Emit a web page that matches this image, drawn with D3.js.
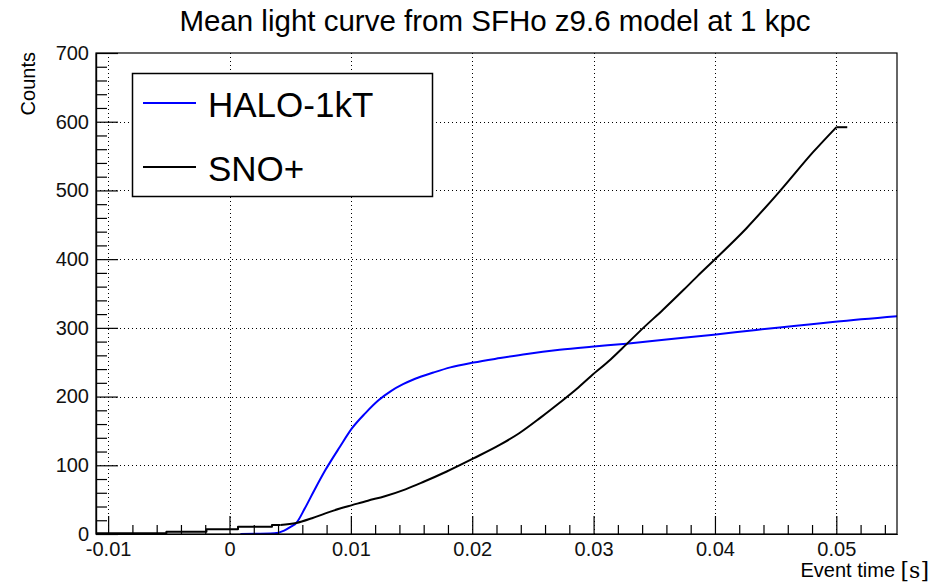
<!DOCTYPE html>
<html>
<head>
<meta charset="utf-8">
<script src="https://cdn.jsdelivr.net/npm/d3@7"></script>
<style>
  html, body { margin: 0; padding: 0; background: #fff; }
  svg { display: block; font-family: "Liberation Sans", Arial, Helvetica, sans-serif; }
</style>
</head>
<body>
<svg id="chart" width="943" height="582"></svg>
<script>
// ---- data ----
const titleText = "Mean light curve from SFHo z9.6 model at 1 kpc";
const seriesNames = ["HALO-1kT", "SNO+"];
const seriesColors = ["#0000ff", "#000000"];

// HALO-1kT: event time [s] and mean counts
const haloTime = [0.0009, 0.0037, 0.0045, 0.0051, 0.0055, 0.0062, 0.0070, 0.0079, 0.0091, 0.0101,
                  0.0112, 0.0123, 0.0133, 0.0143, 0.0153, 0.0168, 0.0182, 0.0201, 0.0223, 0.0245,
                  0.0272, 0.0298, 0.0327, 0.0360, 0.0399, 0.0434, 0.0467, 0.0499, 0.0550];
const haloCounts = [0, 1, 5, 11, 16, 37, 64, 93, 127, 154,
                    176, 195, 208, 218, 226, 235, 242.5, 249.5, 256, 262,
                    268, 272.5, 277, 283, 290, 297, 303, 309, 317];

// SNO+: coarse early bins (drawn as steps) ...
const snoStepTime = [-0.011, -0.0052, -0.0052, -0.0019, -0.0019, 0.0007, 0.0007, 0.0035, 0.0035, 0.0042];
const snoStepCounts = [1, 1, 3.3, 3.3, 7, 7, 10.5, 10.5, 13, 13];
// ... then the finely binned rise
const snoTime = [0.0042, 0.0055, 0.0068, 0.0079, 0.0091, 0.0101, 0.0114, 0.0128, 0.0145, 0.0160,
                 0.0179, 0.0201, 0.0223, 0.0239, 0.0256, 0.0272, 0.0286, 0.0298, 0.0314, 0.0327,
                 0.0341, 0.0357, 0.0374, 0.0386, 0.0399, 0.0426, 0.0454, 0.0481, 0.0500];
const snoCounts = [13, 16, 23, 30, 37, 42, 48.5, 55, 65, 76,
                   91, 110, 130, 147, 169, 191, 211, 230, 254, 276,
                   300, 326, 355, 376, 398, 445, 500, 556, 592];
const snoEndTime = [0.0500, 0.0509];
const snoEndCounts = [592, 592];

const xDomain = [-0.011, 0.055];
const yDomain = [0, 700];
const xTicks = [-0.01, 0, 0.01, 0.02, 0.03, 0.04, 0.05];
const xTickLabels = ["-0.01", "0", "0.01", "0.02", "0.03", "0.04", "0.05"];
const yTicks = [0, 100, 200, 300, 400, 500, 600, 700];
const yTickLabels = ["0", "100", "200", "300", "400", "500", "600", "700"];
const xLabel = "Event time";
const xUnit = "[s]";
const yLabel = "Counts";

// ---- layout ----
const frame = { left: 96, right: 897, top: 53, bottom: 534 };
const svg = d3.select("#chart");

const x = d3.scaleLinear().domain(xDomain).range([frame.left, frame.right]);
const y = d3.scaleLinear().domain(yDomain).range([frame.bottom, frame.top]);

// minor ticks
const xMinor = d3.range(-0.010, 0.0551, 0.002).map(v => +v.toFixed(4)).filter(v => !xTicks.some(t => Math.abs(t - v) < 1e-9));
const yMinor = d3.range(0, 701, 20).filter(v => v % 100 !== 0);

// grid (dotted)
const grid = svg.append("g").attr("stroke", "#000").attr("stroke-width", 1).attr("stroke-dasharray", "1,3");
grid.selectAll("line.gx").data(xTicks).join("line")
  .attr("x1", d => Math.round(x(d)) + 0.5).attr("x2", d => Math.round(x(d)) + 0.5)
  .attr("y1", frame.top).attr("y2", frame.bottom);
grid.selectAll("line.gy").data(yTicks.filter(d => d > 0 && d < 700)).join("line")
  .attr("y1", d => Math.round(y(d)) + 0.5).attr("y2", d => Math.round(y(d)) + 0.5)
  .attr("x1", frame.left).attr("x2", frame.right);

// curves
const lineLin = d3.line().x(d => x(d[0])).y(d => y(d[1]));
const lineSmooth = d3.line().x(d => x(d[0])).y(d => y(d[1])).curve(d3.curveMonotoneX);
const zip = (a, b) => a.map((t, i) => [t, b[i]]);

function drawPath(data, gen, color) {
  svg.append("path").datum(data).attr("d", gen)
    .attr("fill", "none").attr("stroke", color).attr("stroke-width", 2)
    .attr("stroke-linejoin", "round").attr("stroke-linecap", "butt");
}
drawPath(zip(haloTime, haloCounts), lineSmooth, seriesColors[0]);
drawPath(zip(snoStepTime, snoStepCounts), lineLin, seriesColors[1]);
drawPath(zip(snoTime, snoCounts), lineSmooth, seriesColors[1]);
drawPath(zip(snoEndTime, snoEndCounts), lineLin, seriesColors[1]);

// frame
svg.append("rect").attr("x", frame.left).attr("y", frame.top)
  .attr("width", frame.right - frame.left).attr("height", frame.bottom - frame.top)
  .attr("fill", "none").attr("stroke", "#000").attr("stroke-width", 1.2);

// axes
const xAxis = d3.axisBottom(x).tickValues(xTicks).tickSizeInner(-18).tickSizeOuter(0).tickPadding(8)
  .tickFormat((d, i) => xTickLabels[i]);
svg.append("g").attr("transform", `translate(0,${frame.bottom})`).call(xAxis);
const xAxisMinor = d3.axisBottom(x).tickValues(xMinor).tickSizeInner(-9).tickSizeOuter(0).tickFormat("");
svg.append("g").attr("transform", `translate(0,${frame.bottom})`).call(xAxisMinor);

const yAxis = d3.axisLeft(y).tickValues(yTicks).tickSizeInner(-22).tickSizeOuter(0).tickPadding(7)
  .tickFormat((d, i) => yTickLabels[i]);
svg.append("g").attr("transform", `translate(${frame.left},0)`).call(yAxis);
const yAxisMinor = d3.axisLeft(y).tickValues(yMinor).tickSizeInner(-11).tickSizeOuter(0).tickFormat("");
svg.append("g").attr("transform", `translate(${frame.left},0)`).call(yAxisMinor);

svg.selectAll(".domain").attr("stroke", "#000").attr("stroke-width", 1.2);
svg.selectAll(".tick line").attr("stroke", "#000").attr("stroke-width", 1.2);
svg.selectAll(".tick text").attr("font-family", "Liberation Sans, Arial, sans-serif").attr("font-size", 20).attr("fill", "#111");

// title
svg.append("text").attr("x", 495).attr("y", 31).attr("text-anchor", "middle")
  .attr("font-size", 29.5).attr("fill", "#000").text(titleText);

// axis labels
svg.append("text").attr("x", 895).attr("y", 577).attr("text-anchor", "end")
  .attr("font-size", 20).attr("fill", "#000").text(xLabel);
svg.append("text").attr("x", 929).attr("y", 578).attr("text-anchor", "end")
  .attr("font-family", "DejaVu Serif, Liberation Serif, serif").attr("font-size", 22).attr("fill", "#000").text(xUnit);
svg.append("text").attr("transform", "translate(35,52) rotate(-90)").attr("text-anchor", "end")
  .attr("font-size", 20).attr("fill", "#000").text(yLabel);

// legend
const lg = svg.append("g");
lg.append("rect").attr("x", 132.5).attr("y", 73.5).attr("width", 300).attr("height", 123)
  .attr("fill", "#fff").attr("stroke", "#000").attr("stroke-width", 1.5);
const legendRows = [103, 167];
seriesNames.forEach((name, i) => {
  lg.append("line").attr("x1", 143).attr("x2", 196).attr("y1", legendRows[i]).attr("y2", legendRows[i])
    .attr("stroke", seriesColors[i]).attr("stroke-width", 2);
  lg.append("text").attr("x", 208).attr("y", legendRows[i] + 13.5)
    .attr("font-size", 35).attr("fill", "#000").text(name);
});
</script>
</body>
</html>
